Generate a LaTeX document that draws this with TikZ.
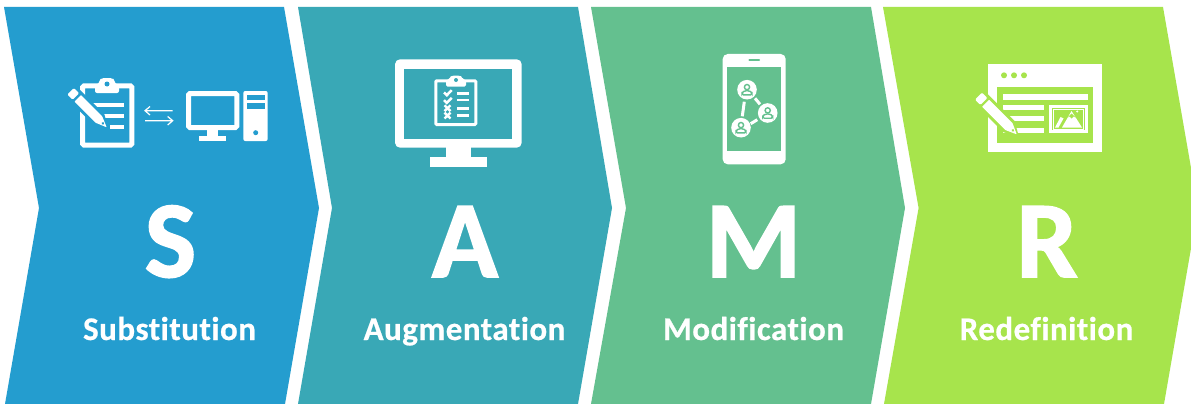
\documentclass[tikz,border=0pt]{standalone}
\usepackage{fontspec}
\setmainfont{Carlito}
\newfontfamily\heavyface[BoldFeatures={FakeBold=1.5},Ligatures=NoCommon]{Carlito}
\newfontfamily\labelface[BoldFeatures={FakeBold=0.6,LetterSpace=1.5},Ligatures=NoCommon]{Carlito}
\definecolor{cblue}{HTML}{249DCF}
\definecolor{cteal}{HTML}{39A8B6}
\definecolor{cgreen}{HTML}{64C08F}
\definecolor{clime}{HTML}{A7E44C}
\tikzset{
  bigletter/.style={text=white,anchor=base,inner sep=0pt,font=\fontsize{109}{109}\selectfont\heavyface\bfseries},
  steplabel/.style={text=white,anchor=base,inner sep=0pt,font=\fontsize{33}{36}\selectfont\labelface\bfseries},
  wf/.style={fill=white,draw=none},
  wl/.style={draw=white,fill=none},
}
% pencil: #1 tip position, #2 angle, #3 length, #4 half width, #5 background colour
\newcommand{\pencilicon}[5]{%
  \begin{scope}[shift={#1},rotate=#2]
    \fill[#5] (-3,0) -- (11,{-#4-3}) -- (#3+3,{-#4-3}) -- (#3+3,{#4+3}) -- (11,{#4+3}) -- cycle;
    \fill[white,rounded corners=0.6pt] (0,0) -- (11,-#4) -- (#3-10,-#4) -- (#3-10,#4) -- (11,#4) -- cycle;
    \fill[white,rounded corners=1.2pt] (#3-7.5,-#4) rectangle (#3,#4);
    \fill[#5] (5.5,0) circle (1.5);
  \end{scope}}
\newcommand{\persongl}[3]{%
  \begin{scope}[shift={(#1,#2)}]
    \draw[#3,line width=1.4pt,fill=white] (0,-2.6) circle (2.6);
    \draw[#3,line width=1.4pt,fill=white,rounded corners=1.5pt] (-5,5.2) -- (-5,2.7) -- (-2,1) -- (2,1) -- (5,2.7) -- (5,5.2) -- cycle;
  \end{scope}}
\begin{document}
\begin{tikzpicture}[x=1pt,y=-1pt]
\useasboundingbox (0,0) rectangle (1191,404);
\fill[white] (0,0) rectangle (1191,404);
% chevrons
\fill[cblue] (4,7) -- (39,208) -- (5,404) -- (285,404) -- (319,208) -- (284,7) -- cycle;
\fill[cteal] (298,7) -- (332,208) -- (298,404) -- (578,404) -- (612,208) -- (578,7) -- cycle;
\fill[cgreen] (591,7) -- (626,208) -- (591,404) -- (871,404) -- (905,208) -- (871,7) -- cycle;
\begin{scope}
\clip (0,0) rectangle (1191,404);
\fill[clime] (883,7) -- (918.6,208) -- (884,404) -- (1164,404) -- (1198,208) -- (1163,7) -- cycle;
\end{scope}
% letters and labels
\node[bigletter] (ls) at (170.5,277) {S};
\node[bigletter] (la) at (465,277) {A};
\node[bigletter] (lm) at (753.5,277) {M};
\node[bigletter] (lr) at (1047,277) {R};
\node[steplabel] (ts) at (169.5,340) {Substitution};
\node[steplabel] (ta) at (464.5,340) {Augmentation};
\node[steplabel] (tm) at (753.5,340) {Modification};
\node[steplabel] (tr) at (1046.5,340) {Redefinition};
% ---- icon 1
\draw[wl,line width=5pt,rounded corners=1.5pt] (82.5,85.8) rectangle (131.8,145.2);
\fill[wf,rounded corners=2pt] (95,93) -- (95,84) -- (99,84) -- (99,80) -- (102,78) -- (112,78) -- (115,80) -- (115,84) -- (119,84) -- (119,93) -- cycle;
\fill[cblue] (107,84) circle (2.5);
\fill[wf] (93,103.3) rectangle (124,107);
\fill[wf] (103,114.3) rectangle (124,118);
\fill[wf] (110,125) rectangle (124,128.5);
\pencilicon{(106.7,127.3)}{135}{51}{4.6}{cblue}
\draw[wl,line width=1.2pt] (172.7,110.7) -- (145,110.7) (150,106.5) -- (145,110.7) -- (150,115);
\draw[wl,line width=1.2pt] (145,120.7) -- (172.7,120.7) (167.7,116.5) -- (172.7,120.7) -- (167.7,125);
\draw[wl,line width=5pt,rounded corners=1.5pt] (188.5,93.5) rectangle (236.8,127.5);
\fill[wf] (207.3,128) rectangle (218.3,137);
\fill[wf] (199.3,135.7) rectangle (226,141);
\fill[wf,rounded corners=2pt] (243.3,91) rectangle (267.7,141);
\fill[cblue] (246.7,94.7) rectangle (265,100);
\fill[cblue] (246.7,103.3) rectangle (265,109);
\fill[cblue] (255.7,132.7) circle (2.5);
% ---- icon 2
\fill[wf,rounded corners=5pt] (395,59.3) rectangle (521.7,147.7);
\fill[cteal] (404.3,69) rectangle (512.3,138.7);
\fill[wf] (445.7,147) rectangle (471,158);
\fill[wf] (430,157.3) rectangle (487,167);
\draw[wl,line width=3pt,rounded corners=1pt] (435.8,80.8) rectangle (475.8,124.5);
\fill[wf,rounded corners=1.5pt] (446,86.7) -- (446,79.5) -- (449.5,79.5) -- (449.5,77) -- (452,75.7) -- (460,75.7) -- (462.5,77) -- (462.5,79.5) -- (466,79.5) -- (466,86.7) -- cycle;
\fill[cteal] (456,80) circle (2);
\draw[wl,line width=2.5pt] (444,92.5) -- (446.8,95.2) -- (451.7,90.2);
\draw[wl,line width=2.5pt] (444,100.2) -- (446.8,102.9) -- (451.7,97.9);
\draw[wl,line width=2.4pt] (444.5,105.3) -- (450.5,111.1) (450.5,105.3) -- (444.5,111.1);
\draw[wl,line width=2.4pt] (444.5,112.7) -- (450.5,118.5) (450.5,112.7) -- (444.5,118.5);
\foreach \yy in {93.3,100,108.3,115.5}{\draw[wl,line width=2.6pt] (457,\yy) -- (469,\yy);}
% ---- icon 3
\fill[wf,rounded corners=5pt] (722.7,54) rectangle (785.7,164.3);
\fill[cgreen] (727,67) rectangle (781,151);
\draw[cgreen,line width=2.4pt,line cap=round] (749.5,60) -- (759,60);
\draw[wl,line width=3pt] (755,98.3) -- (760,104.3);
\draw[wl,line width=3pt] (744.3,101.7) -- (742.3,116.3);
\draw[wl,line width=3pt] (750.7,123.7) -- (757.3,119.7);
\foreach \px/\py in {747/89.7,767.7/113,741/127.7}{\fill[white] (\px,\py) circle (9.8); \persongl{\px}{\py}{cgreen}}
% ---- icon 4
\fill[wf] (988.3,64) rectangle (1102,151.7);
\fill[clime] (997,86.7) rectangle (1093.3,143);
\foreach \xx in {1004,1014,1024}{\fill[clime] (\xx,75.3) circle (3);}
\fill[wf] (1003,94) rectangle (1088,100);
\fill[wf] (1003,105.3) rectangle (1043.7,110.3);
\fill[wf] (1003,116) rectangle (1043.7,121.3);
\fill[wf] (1003,127.7) rectangle (1043.7,133);
\draw[wl,line width=2.8pt] (1050.7,106.7) rectangle (1086.6,131.6);
\draw[wl,line width=1pt] (1053.5,109.5) rectangle (1083.8,129);
\fill[wf] (1062,127.5) -- (1071.5,111) -- (1082,127.5) -- cycle;
\fill[clime] (1067.5,117.5) -- (1071.5,113.5) -- (1075.5,117.5) -- (1073.5,116.5) -- (1071.5,118.5) -- (1069.5,116.5) -- cycle;
\fill[wf] (1055,127.5) -- (1060.5,117) -- (1063.5,118.5) -- (1058.5,127.5) -- cycle;
\fill[wf] (1077.3,111.5) circle (1.1);
\pencilicon{(1016.7,134.3)}{135}{54}{5}{clime}
\end{tikzpicture}
\end{document}
